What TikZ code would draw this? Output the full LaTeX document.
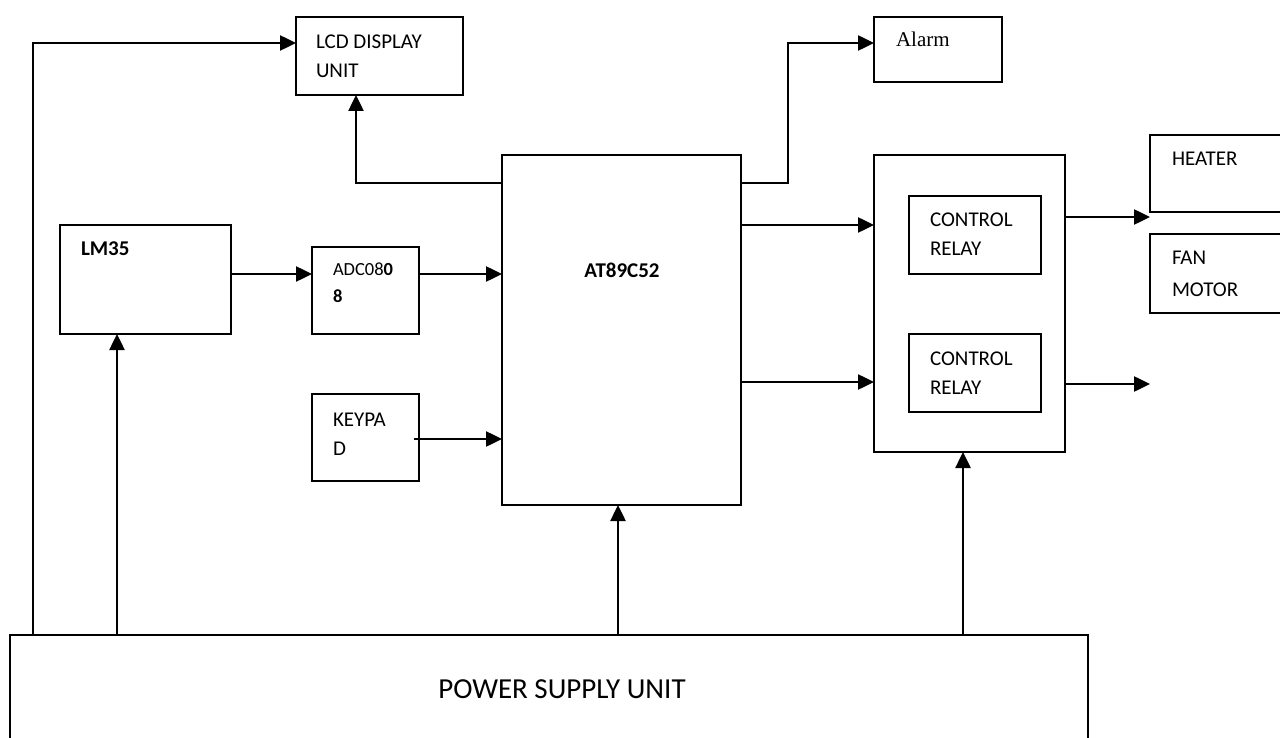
\documentclass[tikz,border=0pt]{standalone}
\usepackage{fontspec}
\setmainfont{Carlito}
\newfontfamily\alarmfont{Liberation Serif}
\usetikzlibrary{arrows.meta}
\begin{document}
\begin{tikzpicture}[x=1pt,y=-1pt,
  blk/.style={draw, line width=2pt, inner sep=0pt, outer sep=0pt, anchor=north west},
  lbl/.style={anchor=base west, inner sep=0pt, outer sep=0pt, font=\fontsize{21}{25}\selectfont},
  conn/.style={line width=2.5pt, -{Triangle[length=16pt,width=15pt]}},
  wire/.style={line width=2.5pt}]
\useasboundingbox (0,0) rectangle (1280,738);
\fill[white] (0,0) rectangle (1280,738);
\begin{scope}
\clip (0,0) rectangle (1280,738);
% blocks
\node[blk, minimum width=167pt, minimum height=78pt] (lcd) at (296,17) {};
\node[blk, minimum width=239pt, minimum height=350pt] (at) at (502,155) {};
\node[blk, minimum width=128pt, minimum height=65pt] (alarm) at (874,17) {};
\node[blk, minimum width=191pt, minimum height=297pt] (rel) at (874,155) {};
\node[blk, minimum width=132pt, minimum height=78pt] (rly1) at (909,196) {};
\node[blk, minimum width=132pt, minimum height=78pt] (rly2) at (909,334) {};
\node[blk, minimum width=150pt, minimum height=77pt] (heat) at (1150,135) {};
\node[blk, minimum width=150pt, minimum height=79pt] (fan) at (1150,234) {};
\node[blk, minimum width=171pt, minimum height=109pt] (lm) at (60,225) {};
\node[blk, minimum width=107pt, minimum height=87pt] (adc) at (312,247) {};
\node[blk, minimum width=107pt, minimum height=87pt] (kp) at (312,394) {};
\node[blk, line width=1.5pt, minimum width=1078pt, minimum height=130pt] (ps) at (10,635) {};
% labels
\node[lbl] (t1) at (316,49) {LCD DISPLAY};
\node[lbl] (t2) at (316,78) {UNIT};
\node[lbl, anchor=base, font=\fontsize{21}{25}\selectfont\bfseries] (t3) at (622,277) {AT89C52};
\node[lbl, font=\fontsize{21}{25}\alarmfont] (t4) at (896,47) {Alarm};
\node[lbl] (t5) at (930,227) {CONTROL};
\node[lbl] (t6) at (930,256) {RELAY};
\node[lbl] (t7) at (930,365) {CONTROL};
\node[lbl] (t8) at (930,394) {RELAY};
\node[lbl] (t9) at (1172,166) {HEATER};
\node[lbl] (t10) at (1172,265) {FAN};
\node[lbl] (t11) at (1172,296) {MOTOR};
\node[lbl, font=\fontsize{21}{25}\selectfont\bfseries] (t12) at (81,256) {LM35};
\node[lbl, font=\fontsize{18.5}{22}\selectfont] (t13) at (333,276) {ADC08\textbf{0}};
\node[lbl, font=\fontsize{18.5}{22}\selectfont\bfseries] (t14) at (333,302) {8};
\node[lbl] (t15) at (333,426) {KEYPA};
\node[lbl] (t16) at (333,455) {D};
\node[lbl, anchor=base, font=\fontsize{29}{34}\selectfont] (t17) at (562,698) {POWER SUPPLY UNIT};
% connector points
\coordinate (lft) at (33,43);
\coordinate (c1) at (356,183);
\coordinate (c2) at (788,183);
\coordinate (c3) at (788,43);
\coordinate (r1) at (0,225);
\coordinate (r2) at (0,382);
\coordinate (h1) at (0,217);
\coordinate (o2) at (1150,384);
\coordinate (a1) at (0,274);
\coordinate (k1) at (414,439);
\coordinate (p1) at (117,0);
\coordinate (p2) at (618,0);
\coordinate (p3) at (963,0);
% connectors
\draw[conn] (ps.north -| lft) -- (lft) -- (lcd.west |- lft);
\draw[conn] (at.west |- c1) -- (c1) -- (lcd.south -| c1);
\draw[conn] (at.east |- c2) -- (c2) -- (c3) -- (alarm.west |- c3);
\draw[conn] (at.east |- r1) -- (rel.west |- r1);
\draw[conn] (at.east |- r2) -- (rel.west |- r2);
\draw[conn] (rel.east |- h1) -- (heat.west |- h1);
\draw[conn] (rel.east |- o2) -- (o2);
\draw[conn] (lm.east |- a1) -- (adc.west |- a1);
\draw[conn] (adc.east |- a1) -- (at.west |- a1);
\draw[conn] (k1) -- (at.west |- k1);
\draw[conn] (ps.north -| p1) -- (lm.south -| p1);
\draw[conn] (ps.north -| p2) -- (at.south -| p2);
\draw[conn] (ps.north -| p3) -- (rel.south -| p3);
\end{scope}
\end{tikzpicture}
\end{document}
